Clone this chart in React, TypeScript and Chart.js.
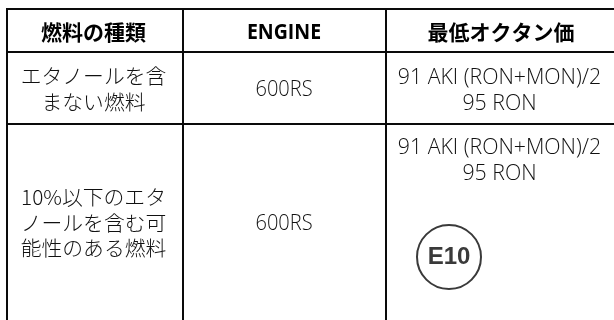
import React, { useEffect, useRef } from "react";
import { Chart, registerables } from "chart.js";

Chart.register(...registerables);

const columnEdges = [7, 182.5, 386];
const rowEdges = [9, 52, 124];
const columnCentres = [93.5, 284, 499.5];

const headers = ["燃料の種類", "ENGINE", "最低オクタン価"];
const engines = ["600RS", "600RS"];
const fuelTypes = [
  ["エタノールを含", "まない燃料"],
  ["10%以下のエタ", "ノールを含む可", "能性のある燃料"],
];
const octaneLines = ["91 AKI (RON+MON)/2", "95 RON"];
const badgeLabel = "E10";
const badgePoints = [{ x: 449, y: 257 }];

const SANS = "'Open Sans', 'Noto Sans CJK JP', sans-serif";

const tablePlugin = {
  id: "tableText",
  afterDraw(chart: any) {
    const { ctx, scales } = chart;
    const X = (v: number) => scales.x.getPixelForValue(v);
    const Y = (v: number) => scales.y.getPixelForValue(v);
    const LH = 25.5;
    const block = (lines: string[], cx: number, cy: number, font: string, color: string, stretch = 1) => {
      ctx.save();
      ctx.font = font;
      ctx.fillStyle = color;
      ctx.textAlign = "center";
      ctx.textBaseline = "middle";
      lines.forEach((l, i) => {
        const y = cy + (i - (lines.length - 1) / 2) * LH;
        ctx.save();
        ctx.translate(X(cx), Y(y));
        ctx.scale(stretch, 1);
        ctx.fillText(l, 0, 0);
        ctx.restore();
      });
      ctx.restore();
    };
    const body = `300 21.3px ${SANS}`;
    const jp = `300 20.8px 'Noto Sans CJK JP', sans-serif`;
    const ink = "#111111";
    block([headers[0]], columnCentres[0], 32, `700 21px 'Noto Sans CJK JP', sans-serif`, "#000000");
    block([headers[1]], columnCentres[1], 33, `700 21px ${SANS}`, "#000000", 0.93);
    block([headers[2]], columnCentres[2] + 1.5, 32, `700 21px 'Noto Sans CJK JP', sans-serif`, "#000000");
    block(fuelTypes[0], columnCentres[0], 89, jp, ink);
    block(fuelTypes[1], columnCentres[0], 223, jp, ink);
    block([engines[0]], columnCentres[1], 89.5, body, ink, 0.94);
    block([engines[1]], columnCentres[1], 224, body, ink, 0.94);
    block(octaneLines, columnCentres[2], 91, body, ink);
    block(octaneLines, columnCentres[2], 161, body, ink);
    const p = chart.getDatasetMeta(0).data[0];
    block([badgeLabel], scales.x.getValueForPixel(p.x), scales.y.getValueForPixel(p.y), "700 24px 'Liberation Sans', sans-serif", "#3a3a3a");
  },
};

export default function App() {
  const ref = useRef<HTMLCanvasElement>(null);
  useEffect(() => {
    document.body.style.margin = "0";
    const chart = new Chart(ref.current as HTMLCanvasElement, {
      type: "scatter",
      data: {
        datasets: [
          {
            data: badgePoints,
            pointRadius: 32,
            pointBackgroundColor: "rgba(0,0,0,0)",
            pointBorderColor: "#3a3a3a",
            pointBorderWidth: 2,
            clip: false,
          },
        ],
      },
      options: {
        animation: false,
        responsive: false,
        events: [],
        layout: { autoPadding: false, padding: { left: 6, top: 8, right: 0, bottom: 0 } },
        plugins: { legend: { display: false }, tooltip: { enabled: false }, title: { display: false } },
        scales: {
          x: {
            type: "linear",
            min: 6,
            max: 614,
            afterBuildTicks: (a: any) => {
              a.ticks = columnEdges.map((value) => ({ value }));
            },
            grid: { color: "#0a0a0a", lineWidth: 2, drawTicks: false },
            border: { display: false },
            ticks: { display: false },
          },
          y: {
            type: "linear",
            reverse: true,
            min: 8,
            max: 320,
            afterBuildTicks: (a: any) => {
              a.ticks = rowEdges.map((value) => ({ value }));
            },
            grid: { color: "#0a0a0a", lineWidth: 2, drawTicks: false },
            border: { display: false },
            ticks: { display: false },
          },
        },
      },
      plugins: [tablePlugin],
    } as any);
    return () => chart.destroy();
  }, []);
  return (
    <div style={{ width: 614, height: 320, background: "#ffffff" }}>
      <canvas ref={ref} width={614} height={320} style={{ display: "block" }} />
    </div>
  );
}
